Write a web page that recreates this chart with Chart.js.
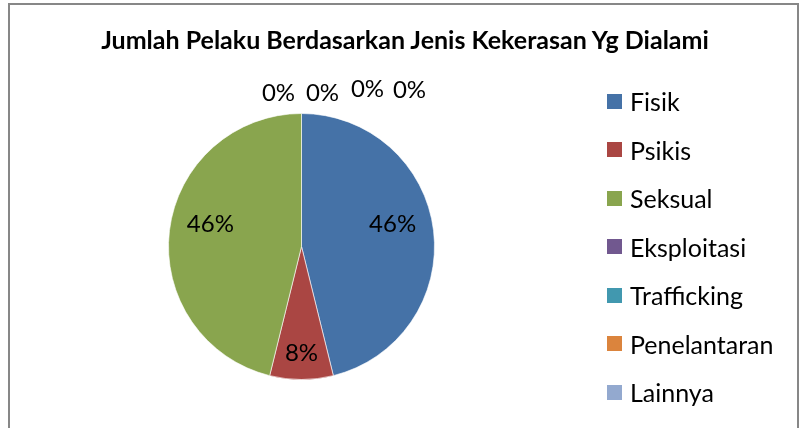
<!DOCTYPE html>
<html>
<head>
<meta charset="utf-8">
<script src="https://cdn.jsdelivr.net/npm/chart.js@4/dist/chart.umd.min.js"></script>
<style>
html, body { margin:0; padding:0; background:#fff; }
#wrap { position:relative; width:801px; height:428px; overflow:hidden; font-family:Lato, "Open Sans", sans-serif; }
#frame { position:absolute; left:8px; top:3px; width:787px; height:460px; border:2px solid #878787; }
#title { position:absolute; left:0; top:24px; width:810px; text-align:center; font-weight:700; font-size:25px; line-height:1.2; color:#000; white-space:nowrap; }
#legend { position:absolute; left:607px; top:77px; }
.li { height:48.5px; display:flex; align-items:center; font-size:25px; color:#000; white-space:nowrap; }
.li i { display:inline-block; width:15px; height:15px; margin-right:8px; }
canvas { position:absolute; left:0; top:0; }
</style>
</head>
<body>
<div id="wrap">
  <div id="frame"></div>
  <canvas id="pie" width="801" height="428"></canvas>
  <div id="title">Jumlah Pelaku Berdasarkan Jenis Kekerasan Yg Dialami</div>
  <div id="legend"></div>
</div>
<script>
/* Pie: pelaku per jenis kekerasan (values read from the 46% / 8% / 46% picture). */
const TITLE = "Jumlah Pelaku Berdasarkan Jenis Kekerasan Yg Dialami";
const LABELS = ["Fisik","Psikis","Seksual","Eksploitasi","Trafficking","Penelantaran","Lainnya"];
const COUNTS = [6, 1, 6, 0, 0, 0, 0];
const COLORS = ["#4572a7","#aa4643","#89a54e","#71588f","#4198af","#db843d","#93a9cf"];

const TOTAL = COUNTS.reduce((a,b) => a+b, 0);
const pct = v => Math.round(v / TOTAL * 100) + "%";

document.getElementById("title").textContent = TITLE;
const lg = document.getElementById("legend");
LABELS.forEach((l,i) => {
  const d = document.createElement("div");
  d.className = "li";
  d.innerHTML = `<i style="background:${COLORS[i]}"></i><span>${l}</span>`;
  lg.appendChild(d);
});

// Excel-ish label placement: inside labels nudged, zero labels fanned out above the top
const INSIDE = { r: [0.69, 0.80, 0.69], dy: [-11, 0, -11] };
const ZERO_SHIFT = [[-23,-20],[21,-20],[66,-24],[108,-23]];

const pctLabels = {
  id: "pctLabels",
  afterDatasetsDraw(chart){
    const ctx = chart.ctx, meta = chart.getDatasetMeta(0);
    ctx.save();
    ctx.font = "24px Lato";
    ctx.fillStyle = "#000";
    ctx.textAlign = "center";
    ctx.textBaseline = "middle";
    let z = 0;
    meta.data.forEach((arc, i) => {
      const p = arc.getProps(["x","y","startAngle","endAngle","outerRadius"], true);
      const mid = (p.startAngle + p.endAngle) / 2;
      if (COUNTS[i] === 0) {
        const s = ZERO_SHIFT[z++] || [0,-20];
        const tx = p.x + Math.cos(mid) * p.outerRadius, ty = p.y + Math.sin(mid) * p.outerRadius;
        ctx.fillText(pct(COUNTS[i]), tx + s[0], ty + s[1]);
      } else {
        const r = p.outerRadius * INSIDE.r[i];
        ctx.fillText(pct(COUNTS[i]), p.x + Math.cos(mid) * r, p.y + Math.sin(mid) * r + INSIDE.dy[i]);
      }
    });
    ctx.restore();
  }
};

new Chart(document.getElementById("pie"), {
  type: "pie",
  data: { labels: LABELS, datasets: [{ data: COUNTS, backgroundColor: COLORS,
    borderColor: "rgba(255,255,255,0.6)", borderWidth: 1 }] },
  options: {
    responsive: false, animation: false, devicePixelRatio: 1,
    layout: { padding: { left: 168, right: 366, top: 113, bottom: 48 } },
    plugins: { legend: { display: false }, title: { display: false }, tooltip: { enabled: false } }
  },
  plugins: [pctLabels]
});
</script>
</body>
</html>
